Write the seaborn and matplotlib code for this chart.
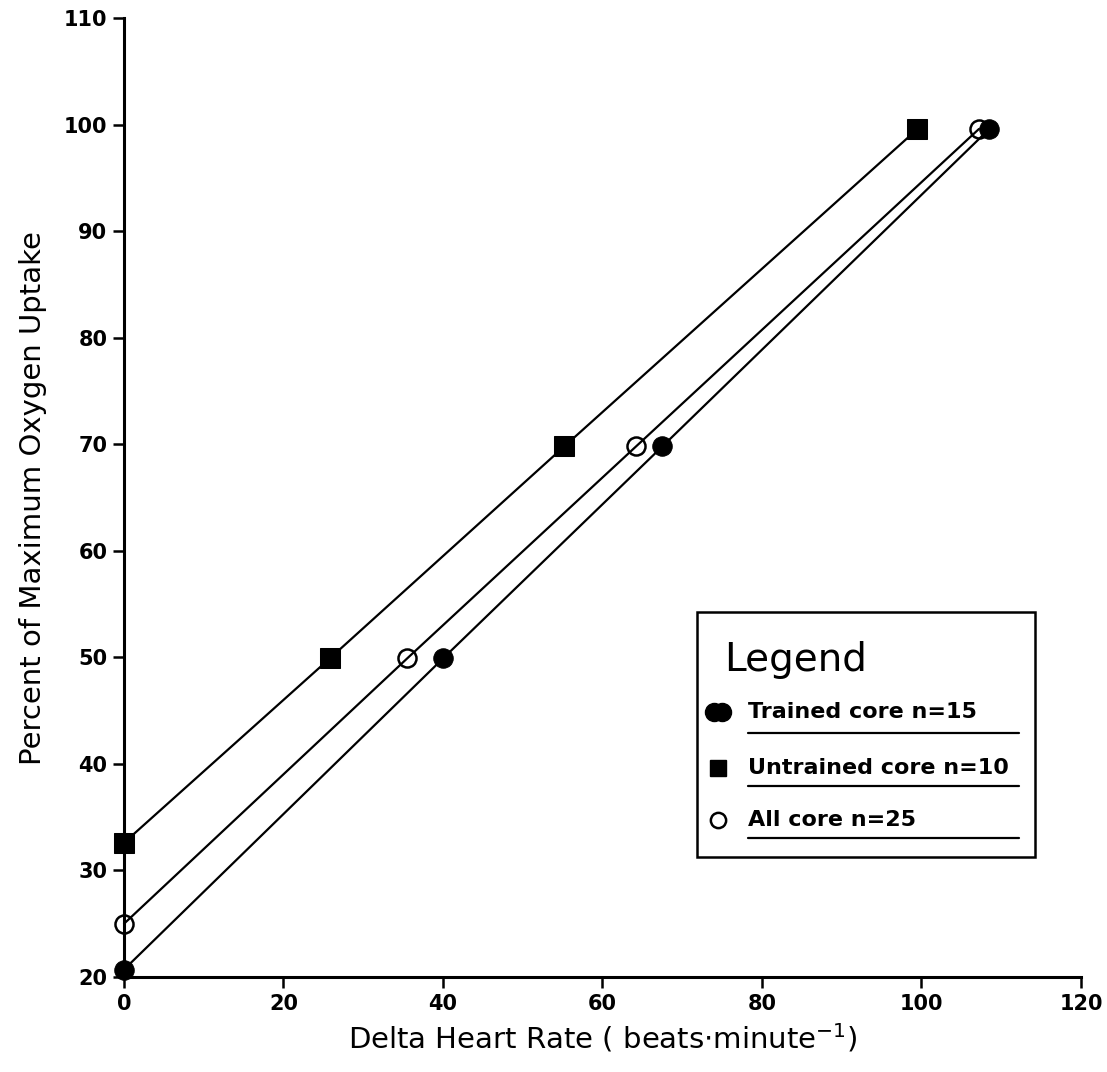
import matplotlib
matplotlib.use("Agg")
import matplotlib.pyplot as plt
import seaborn as sns
import pandas as pd
from matplotlib.patches import Rectangle
from matplotlib.lines import Line2D

# ---- data ----
trained_x = [0, 40, 67.5, 108.5]
trained_y = [20.7, 49.9, 69.8, 99.6]
untrained_x = [0, 25.8, 55.2, 99.5]
untrained_y = [32.6, 49.9, 69.8, 99.6]
all_x = [0, 35.5, 64.2, 107.2]
all_y = [25.0, 49.9, 69.8, 99.6]

x_ticks = [0, 20, 40, 60, 80, 100, 120]
y_ticks = [20, 30, 40, 50, 60, 70, 80, 90, 100, 110]
labels = ["Trained core n=15", "Untrained core n=10", "All core n=25"]

sns.set_theme(style="white")
plt.rcParams['font.family'] = ['DejaVu Sans']
plt.rcParams['mathtext.fontset'] = 'dejavusans'
plt.rcParams['text.color'] = 'black'
plt.rcParams['axes.labelcolor'] = 'black'
plt.rcParams['xtick.color'] = 'black'
plt.rcParams['ytick.color'] = 'black'

fig = plt.figure(figsize=(11.07, 10.72), dpi=100)
ax = fig.add_axes([0.112, 0.0886, 0.8645, 0.8944])

common = dict(ax=ax, color="black", linewidth=1.6, legend=False, zorder=3, clip_on=False)
sns.lineplot(x=untrained_x, y=untrained_y, marker="s", markersize=15,
             markerfacecolor="black", markeredgecolor="black", **common)
sns.lineplot(x=all_x, y=all_y, marker="o", markersize=13,
             markerfacecolor="none", markeredgecolor="black", markeredgewidth=1.8, **common)
sns.lineplot(x=trained_x, y=trained_y, marker="o", markersize=14,
             markerfacecolor="black", markeredgecolor="black", **common)

ax.set_xlim(0, 120)
ax.set_ylim(20, 110)
ax.set_xticks(x_ticks)
ax.set_yticks(y_ticks)
ax.set_xticklabels([str(v) for v in x_ticks], fontsize=15, fontweight="bold", color="black")
ax.set_yticklabels([str(v) for v in y_ticks], fontsize=15, fontweight="bold", color="black")
ax.tick_params(axis="both", direction="out", length=8, width=1.8, color="black",
               labelcolor="black", bottom=True, left=True, pad=4)
for side in ["top", "right"]:
    ax.spines[side].set_visible(False)
for side in ["left", "bottom"]:
    ax.spines[side].set_color("black")
    ax.spines[side].set_linewidth(2.2)

ax.set_xlabel("Delta Heart Rate ( beats$\\cdot$minute$^{-1}$)", fontsize=21, labelpad=6,
              color="black")
ax.set_ylabel("Percent of Maximum Oxygen Uptake", fontsize=21, labelpad=12, color="black")

# ---- legend box (drawn by hand to mimic the original) ----
bx0, bx1, by0, by1 = 71.8, 114.2, 31.3, 54.3
ax.add_patch(Rectangle((bx0, by0), bx1 - bx0, by1 - by0, fill=False,
                       edgecolor="black", linewidth=1.8, zorder=4, clip_on=False))
ax.text(75.2, 49.8, "Legend", fontsize=28, va="center", ha="left", zorder=5, color="black")

rows_y = [44.9, 39.6, 34.7]
under_y = [42.9, 37.9, 33.05]
text_x = 78.3
under_x1 = 112.2
# Trained: double filled circle
ax.plot([74.0, 75.0], [rows_y[0], rows_y[0]], linestyle="none", marker="o",
        markersize=13, color="black", zorder=5, clip_on=False)
ax.plot([74.5], [rows_y[1]], linestyle="none", marker="s", markersize=12,
        color="black", zorder=5, clip_on=False)
ax.plot([74.5], [rows_y[2]], linestyle="none", marker="o", markersize=11,
        markerfacecolor="none", markeredgecolor="black", markeredgewidth=1.8,
        zorder=5, clip_on=False)
for lab, ry, uy in zip(labels, rows_y, under_y):
    ax.text(text_x, ry, lab, fontsize=16, fontweight="bold", va="center", ha="left",
            zorder=5, color="black")
    ax.add_line(Line2D([text_x, under_x1], [uy, uy], color="black", linewidth=1.6, zorder=5))

fig.savefig("out.png", dpi=100, facecolor="white")
